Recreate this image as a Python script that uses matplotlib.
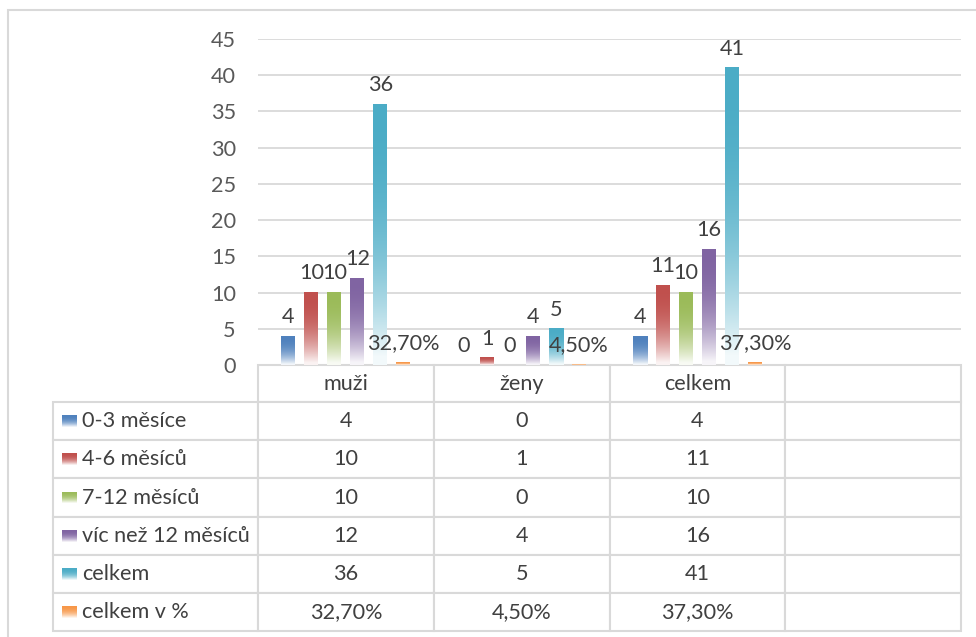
import numpy as np
import matplotlib
matplotlib.use("Agg")
import matplotlib.pyplot as plt
from matplotlib.colors import to_rgb
from matplotlib.patches import Rectangle

plt.rcParams['font.family'] = ['Lato', 'DejaVu Sans']

categories = ["muži", "ženy", "celkem", ""]
series_names = ["0-3 měsíce", "4-6 měsíců", "7-12 měsíců", "víc než 12 měsíců", "celkem", "celkem v %"]
values = [
    [4, 0, 4, np.nan],
    [10, 1, 11, np.nan],
    [10, 0, 10, np.nan],
    [12, 4, 16, np.nan],
    [36, 5, 41, np.nan],
    [0.327, 0.045, 0.373, np.nan],
]
labels = [
    ["4", "0", "4", ""],
    ["10", "1", "11", ""],
    ["10", "0", "10", ""],
    ["12", "4", "16", ""],
    ["36", "5", "41", ""],
    ["32,70%", "4,50%", "37,30%", ""],
]
colors = ["#4F81BD", "#C0504D", "#9BBB59", "#8064A2", "#4BACC6", "#F79646"]
yticks = [0, 5, 10, 15, 20, 25, 30, 35, 40, 45]

TXT = "#404040"
GRID = "#D9D9D9"
FS = 15.6

W, H = 976, 637
AX_W, AX_H = 703, 326
fig = plt.figure(figsize=(W / 100, H / 100), dpi=100)
fig.patch.set_facecolor("white")

# outer chart frame
fig.patches.append(Rectangle((8 / W, -0.1), 1.2, (H - 10) / H + 0.1, transform=fig.transFigure,
                             fill=False, edgecolor=GRID, lw=1.5))

ax = fig.add_axes([258 / W, (H - 365) / H, AX_W / W, AX_H / H])
ax.set_xlim(-0.5, 3.5)
ax.set_ylim(0, 45)
for s in ax.spines.values():
    s.set_visible(False)
ax.set_yticks(yticks)
ax.set_yticklabels([str(t) for t in yticks], fontsize=FS, color="#595959")
ax.tick_params(axis='y', length=0, pad=16)
ax.set_xticks([])
ax.grid(axis='y', color=GRID, lw=1.3)
ax.set_axisbelow(True)


def gradient(color, n=200):
    c = np.array(to_rgb(color))
    t = np.linspace(0, 1, n)[:, None]  # 0 top -> 1 bottom
    w = np.clip(t ** 2.3, 0, 0.93)
    rgb = c * (1 - w) + 1.0 * w
    return rgb[:, None, :]


x = np.arange(len(categories))
step = 23 / 175.75
bw = 14 / 175.75
nser = len(series_names)
for i, (vals, col, labs) in enumerate(zip(values, colors, labels)):
    off = (i - (nser - 1) / 2) * step
    bars = ax.bar(x + off, vals, width=bw, color="none", edgecolor="none", zorder=2)
    img = gradient(col)
    for b, v, lab in zip(bars, vals, labs):
        if np.isnan(v):
            continue
        x0 = b.get_x()
        ax.imshow(img, extent=[x0, x0 + bw, 0, v], aspect='auto', zorder=2, interpolation='bilinear')
        ax.annotate(lab, (x0 + bw / 2, v), xytext=(0, 9.5), textcoords='offset points',
                    ha='center', va='baseline', fontsize=FS, color=TXT, zorder=5,
                    annotation_clip=False)
ax.set_xlim(-0.5, 3.5)
ax.set_ylim(0, 45)

# data table (all sizes in axes fractions; bbox covers header + data columns)
label_w = 205 / AX_W
col_w = 1.0 / len(categories)
row_h = 38.2 / AX_H
head_h = 37 / AX_H
tab_h = head_h + row_h * len(series_names)
tab = ax.table(cellText=labels, colLabels=categories, cellLoc='center',
               colWidths=[col_w] * len(categories),
               bbox=[0, -tab_h, 1.0, tab_h])
for r, name in enumerate(series_names):
    tab.add_cell(r + 1, -1, width=label_w, height=row_h, text=name, loc='left')
tab.auto_set_font_size(False)
tab.set_fontsize(FS)
for (r, c), cell in tab.get_celld().items():
    cell.set_edgecolor(GRID)
    cell.set_linewidth(1.5)
    cell.get_text().set_color(TXT)
    cell.set_height(head_h if r == 0 else row_h)
    if c == -1:
        cell.set_width(label_w)
        cell.PAD = 29 / 205
    else:
        cell.set_width(col_w)

# legend keys inside the row-label cells
for i, col in enumerate(colors):
    cy = head_h + (i + 0.5) * row_h
    sx0 = -label_w + 9 / AX_W
    sy0 = -cy - 6 / AX_H
    sax = ax.inset_axes([sx0, sy0, 14 / AX_W, 12 / AX_H])
    sax.imshow(gradient(col), aspect='auto', extent=[0, 1, 0, 1], interpolation='bilinear')
    sax.set_axis_off()

fig.canvas.draw()
fig.savefig("out.png", dpi=100)
